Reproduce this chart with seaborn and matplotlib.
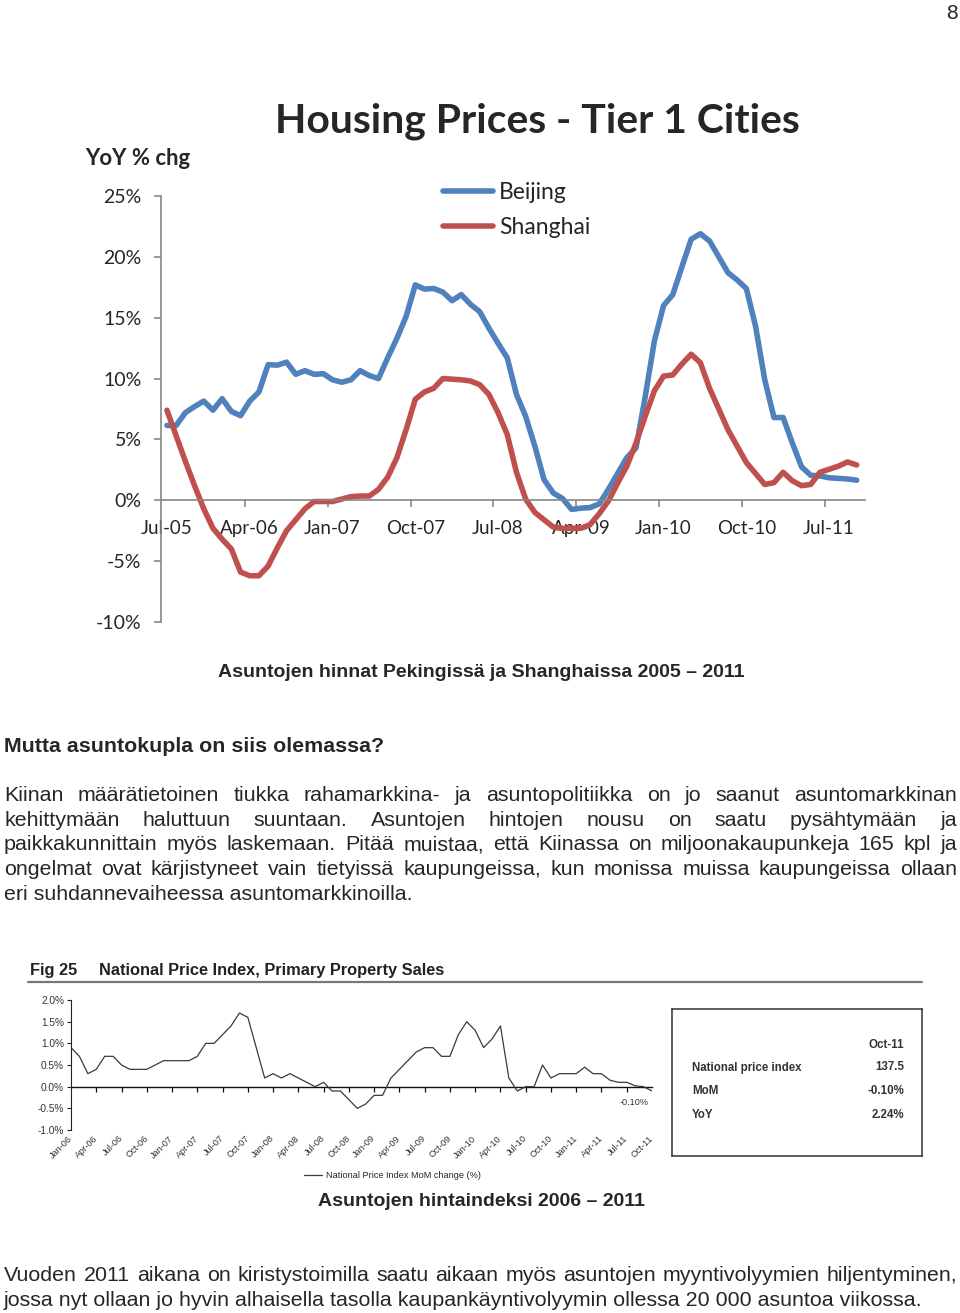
import numpy as np
import pandas as pd
import matplotlib
matplotlib.use("Agg")
import matplotlib.pyplot as plt
from matplotlib.lines import Line2D
import seaborn as sns


# ---------------------------------------------------
# Data

# Housing prices YoY % change, Jul-05 .. Oct-11
months = pd.date_range("2005-07-01", "2011-10-01", freq="MS")

beijing = [6.15, 6.15, 7.2, 7.7, 8.15, 7.4, 8.35, 7.3, 6.95, 8.15,
           8.9, 11.15, 11.1, 11.35, 10.35, 10.65, 10.35, 10.4, 9.9, 9.7,
           9.9, 10.65, 10.25, 10.0, 11.7, 13.3, 15.1, 17.7, 17.35, 17.4,
           17.1, 16.4, 16.9, 16.1, 15.5, 14.15, 12.9, 11.7, 8.7, 6.9,
           4.45, 1.7, 0.6, 0.15, -0.75, -0.65, -0.6, -0.3, 0.9, 2.2,
           3.5, 4.3, 8.5, 13.1, 16.0, 16.9, 19.2, 21.45, 21.9, 21.3,
           20.0, 18.7, 18.1, 17.4, 14.3, 9.9, 6.8, 6.8, 4.7, 2.75,
           2.05, 2.0, 1.85, 1.8, 1.75, 1.65]

shanghai = [7.4, 5.3, 3.2, 1.2, -0.7, -2.3, -3.2, -4.0, -5.9, -6.2,
            -6.2, -5.4, -3.9, -2.5, -1.6, -0.7, -0.1, -0.1, -0.1, 0.1,
            0.3, 0.35, 0.35, 0.9, 1.9, 3.5, 5.8, 8.3, 8.9, 9.2,
            10.0, 9.95, 9.9, 9.8, 9.5, 8.7, 7.2, 5.4, 2.3, 0.1,
            -1.0, -1.6, -2.2, -2.3, -2.3, -2.3, -2.0, -1.1, -0.05, 1.4,
            2.8, 4.7, 6.9, 9.0, 10.2, 10.3, 11.2, 12.0, 11.3, 9.2,
            7.5, 5.8, 4.45, 3.1, 2.2, 1.3, 1.45, 2.3, 1.6, 1.2,
            1.3, 2.3, 2.55, 2.8, 3.15, 2.9]

yoy_ticks = [-10, -5, 0, 5, 10, 15, 20, 25]

# National price index MoM change (%), Jan-06 .. Oct-11
mom_months = pd.date_range("2006-01-01", "2011-10-01", freq="MS")

mom_change = [0.9, 0.7, 0.3, 0.4, 0.7, 0.7, 0.5, 0.4, 0.4, 0.4,
              0.5, 0.6, 0.6, 0.6, 0.6, 0.7, 1.0, 1.0, 1.2, 1.4,
              1.7, 1.6, 0.9, 0.2, 0.3, 0.2, 0.3, 0.2, 0.1, 0.0,
              0.1, -0.1, -0.1, -0.3, -0.5, -0.4, -0.2, -0.2, 0.2, 0.4,
              0.6, 0.8, 0.9, 0.9, 0.7, 0.7, 1.2, 1.5, 1.3, 0.9,
              1.1, 1.4, 0.2, -0.1, 0.0, 0.0, 0.5, 0.2, 0.3, 0.3,
              0.3, 0.45, 0.3, 0.3, 0.15, 0.1, 0.1, 0.02, 0.0, -0.1]

mom_ticks = [-1.0, -0.5, 0.0, 0.5, 1.0, 1.5, 2.0]

info_header = "Oct-11"
info_labels = ["National price index", "MoM", "YoY"]
info_values = ["137.5", "-0.10%", "2.24%"]

paragraph1 = [
    "Kiinan määrätietoinen tiukka rahamarkkina- ja asuntopolitiikka on jo saanut asuntomarkkinan",
    "kehittymään haluttuun suuntaan. Asuntojen hintojen nousu on saatu pysähtymään ja",
    "paikkakunnittain myös laskemaan. Pitää muistaa, että Kiinassa on miljoonakaupunkeja 165 kpl ja",
    "ongelmat ovat kärjistyneet vain tietyissä kaupungeissa, kun monissa muissa kaupungeissa ollaan",
    "eri suhdannevaiheessa asuntomarkkinoilla.",
]

paragraph2 = [
    "Vuoden 2011 aikana on kiristystoimilla saatu aikaan myös asuntojen myyntivolyymien hiljentyminen,",
    "jossa nyt ollaan jo hyvin alhaisella tasolla kaupankäyntivolyymin ollessa 20 000 asuntoa viikossa.",
]


# ---------------------------------------------------
# Page helpers (pixel coords, origin top left)

W, H = 960, 1313


def fx(x):
    return x / W


def fy(y):
    return 1 - y / H


def box(l, t, r, b):
    return [l / W, 1 - b / H, (r - l) / W, (b - t) / H]


sns.set_theme(style="white")
plt.rcParams["font.family"] = ["Liberation Sans", "DejaVu Sans"]

fig = plt.figure(figsize=(W / 100, H / 100), dpi=100)
fig.patch.set_facecolor("white")

BODY = 15.4
renderer = fig.canvas.get_renderer()


def justified(lines, first_baseline, step, x0=4, x1=957, **kw):
    for n, line in enumerate(lines):
        y = fy(first_baseline + n * step)
        if n == len(lines) - 1:
            fig.text(fx(x0), y, line, va="baseline", **kw)
            continue
        words = line.split()
        texts = [fig.text(0, y, w, va="baseline", **kw) for w in words]
        widths = [t.get_window_extent(renderer).width for t in texts]
        gap = (x1 - x0 - sum(widths)) / (len(words) - 1)
        x = x0
        for t, w in zip(texts, widths):
            t.set_x(fx(x))
            x += w + gap


# page number
fig.text(fx(952), fy(19), "8", ha="center", va="baseline", fontsize=15)


# ---------------------------------------------------
# Chart 1: Housing Prices - Tier 1 Cities

blue = "#4F81BD"
red = "#C0504D"
grey = "#868686"
CAL = "Lato"

df1 = pd.DataFrame({
    "month": np.tile(np.arange(len(months)), 2),
    "yoy": beijing + shanghai,
    "city": ["Beijing"] * len(beijing) + ["Shanghai"] * len(shanghai),
})

ax1 = fig.add_axes(box(161, 196, 865, 622))
ax1.patch.set_alpha(0)

sns.lineplot(
    data=df1, x="month", y="yoy", hue="city",
    palette=[blue, red], linewidth=4.0, ax=ax1,
    solid_joinstyle="round", solid_capstyle="round")

ax1.set_xlim(-0.65, 75.9)
ax1.set_ylim(-10, 25)
ax1.set_xlabel("")
ax1.set_ylabel("")

for s in ["top", "right"]:
    ax1.spines[s].set_visible(False)
ax1.spines["bottom"].set_position(("data", 0))
for s in ["left", "bottom"]:
    ax1.spines[s].set_color(grey)
    ax1.spines[s].set_linewidth(1.2)

label_pos = np.arange(0, len(months), 9)
ax1.set_xticks(label_pos)
ax1.set_xticklabels(months[label_pos].strftime("%b-%y"),
                    fontfamily=CAL, fontsize=13.5)
ax1.set_xticks(label_pos[1:] - 0.5, minor=True)
ax1.set_yticks(yoy_ticks)
ax1.set_yticklabels([f"{v}%" for v in yoy_ticks], fontfamily=CAL, fontsize=14)

ax1.tick_params(axis="x", which="major", bottom=True, length=0, pad=14)
ax1.tick_params(axis="x", which="minor", bottom=True, length=5,
                width=1.2, color=grey, direction="out")
ax1.tick_params(axis="y", left=True, length=5, width=1.2, color=grey,
                direction="out", pad=9)

ax1.legend(
    loc="upper left", bbox_to_anchor=(fx(443), fy(182)),
    bbox_transform=fig.transFigure, frameon=False,
    prop={"family": CAL, "size": 16.5},
    handlelength=2.18, handletextpad=0.26, labelspacing=0.6,
    borderpad=0, borderaxespad=0)

fig.text(fx(537), fy(133), "Housing Prices - Tier 1 Cities", ha="center",
         va="baseline", fontsize=29.4, fontweight="bold", family=CAL)
fig.text(fx(85), fy(165), "YoY % chg", va="baseline", fontsize=15.9,
         fontweight="bold", family=CAL)

fig.text(fx(481), fy(677),
         "Asuntojen hinnat Pekingissä ja Shanghaissa 2005 – 2011",
         ha="center", va="baseline", fontsize=14, fontweight="bold")


# ---------------------------------------------------
# Text

fig.text(fx(4), fy(752), "Mutta asuntokupla on siis olemassa?",
         va="baseline", fontsize=BODY, fontweight="bold")

justified(paragraph1, 801, 24.75, fontsize=BODY)


# ---------------------------------------------------
# Chart 2: Fig 25 National Price Index

dark = "#333333"

fig.text(fx(30), fy(975), "Fig 25", va="baseline", fontsize=11.8,
         fontweight="bold", color="#222222")
fig.text(fx(99), fy(975), "National Price Index, Primary Property Sales",
         va="baseline", fontsize=11.8, fontweight="bold", color="#222222")
fig.add_artist(Line2D([fx(28), fx(922)], [fy(982), fy(982)],
                      color="#777777", linewidth=1.6))

ax2 = fig.add_axes(box(71, 1000, 652, 1130))
ax2.patch.set_alpha(0)

sns.lineplot(x=np.arange(len(mom_change)), y=mom_change, color="#3a3a3a",
             linewidth=0.9, label="National Price Index MoM change (%)",
             ax=ax2)

ax2.set_xlim(0, len(mom_change) - 1)
ax2.set_ylim(mom_ticks[0], mom_ticks[-1])
ax2.set_xlabel("")
ax2.set_ylabel("")

for s in ["top", "right", "bottom"]:
    ax2.spines[s].set_visible(False)
ax2.spines["left"].set_color("#222222")
ax2.spines["left"].set_linewidth(0.8)

ax2.set_yticks(mom_ticks)
ax2.set_yticklabels([f"{v:.1f}%" for v in mom_ticks], fontsize=7.3,
                    color=dark)
ax2.tick_params(axis="y", left=True, length=3, width=0.8, color="#222222",
                direction="out", pad=2)

mom_pos = np.arange(0, len(mom_change), 3)
ax2.set_xticks(mom_pos)
ax2.set_xticklabels(mom_months[mom_pos].strftime("%b-%y"), rotation=45,
                    ha="right", va="center", rotation_mode="anchor",
                    fontsize=6.6, color=dark)
ax2.tick_params(axis="x", length=0, pad=5)

# zero line with its own tick marks
zero_at = (0 - mom_ticks[0]) / (mom_ticks[-1] - mom_ticks[0])
sec = ax2.secondary_xaxis(zero_at)
sec.set_xticks(mom_pos[1:-1])
sec.set_xticklabels([])
sec.spines["bottom"].set_color("#111111")
sec.spines["bottom"].set_linewidth(1.0)
sec.tick_params(axis="x", bottom=True, length=3.5, width=0.9,
                color="#111111", direction="out")

ax2.annotate(info_values[1], xy=(len(mom_change) - 1, mom_change[-1]),
             xytext=(-13, -8), textcoords="offset points", ha="center",
             va="center", fontsize=6.6, color=dark)

ax2.legend(
    loc="upper left", bbox_to_anchor=(fx(304), fy(1171)),
    bbox_transform=fig.transFigure, frameon=False, fontsize=6.6,
    handlelength=2.0, handletextpad=0.4, borderpad=0, borderaxespad=0)

# info box
ax3 = fig.add_axes(box(672, 1009, 922, 1156))
ax3.set_xticks([])
ax3.set_yticks([])
for s in ax3.spines.values():
    s.set_visible(True)
    s.set_color("#333333")
    s.set_linewidth(1.1)

fig.text(fx(904), fy(1047.5), info_header, ha="right", va="baseline",
         fontsize=8.3, fontweight="bold", color=dark)
for n, (lab, val) in enumerate(zip(info_labels, info_values)):
    y = fy(1070.5 + n * 24)
    fig.text(fx(692), y, lab, va="baseline", fontsize=8.3,
             fontweight="bold", color=dark)
    fig.text(fx(904), y, val, ha="right", va="baseline", fontsize=8.3,
             fontweight="bold", color=dark)

fig.text(fx(481), fy(1206), "Asuntojen hintaindeksi 2006 – 2011",
         ha="center", va="baseline", fontsize=14, fontweight="bold")

justified(paragraph2, 1281, 24.75, fontsize=BODY)

plt.savefig("out.png", dpi=100)
